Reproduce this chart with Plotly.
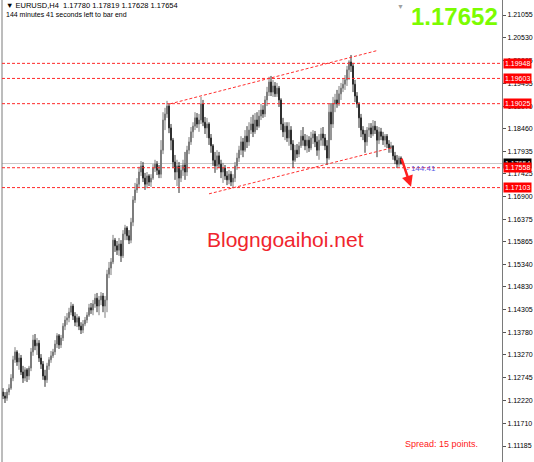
import plotly.graph_objects as go

# ---------------- data (EURUSD H4) ----------------
closes = [
    1.1233, 1.1228, 1.1242, 1.1251, 1.1274, 1.1316, 1.1334, 1.1311, 1.1320, 1.1288,
    1.1274, 1.1293, 1.1279, 1.1297, 1.1334, 1.1361, 1.1348, 1.1354, 1.1320, 1.1306,
    1.1279, 1.1270, 1.1302, 1.1316, 1.1325, 1.1334, 1.1352, 1.1371, 1.1350, 1.1366,
    1.1393, 1.1407, 1.1412, 1.1425, 1.1439, 1.1416, 1.1402, 1.1412, 1.1393, 1.1384,
    1.1398, 1.1407, 1.1418, 1.1435, 1.1430, 1.1444, 1.1457, 1.1439, 1.1453, 1.1462,
    1.1439, 1.1453, 1.1512, 1.1526, 1.1540, 1.1590, 1.1577, 1.1567, 1.1581, 1.1554,
    1.1604, 1.1618, 1.1600, 1.1590, 1.1631, 1.1682, 1.1705, 1.1718, 1.1746, 1.1760,
    1.1732, 1.1718, 1.1737, 1.1723, 1.1732, 1.1755, 1.1764, 1.1750, 1.1741, 1.1796,
    1.1865, 1.1879, 1.1897, 1.1847, 1.1819, 1.1769, 1.1746, 1.1760, 1.1732, 1.1750,
    1.1762, 1.1746, 1.1796, 1.1815, 1.1838, 1.1851, 1.1870, 1.1856, 1.1865, 1.1902,
    1.1860, 1.1847, 1.1856, 1.1824, 1.1806, 1.1773, 1.1760, 1.1783, 1.1764, 1.1746,
    1.1755, 1.1737, 1.1728, 1.1741, 1.1723, 1.1732, 1.1760, 1.1778, 1.1796, 1.1815,
    1.1796, 1.1828, 1.1815, 1.1842, 1.1856, 1.1838, 1.1865, 1.1851, 1.1874, 1.1888,
    1.1879, 1.1911, 1.1929, 1.1952, 1.1929, 1.1943, 1.1925, 1.1938, 1.1911, 1.1856,
    1.1838, 1.1851, 1.1824, 1.1842, 1.1810, 1.1773, 1.1796, 1.1787, 1.1806, 1.1828,
    1.1819, 1.1806, 1.1819, 1.1801, 1.1824, 1.1833, 1.1815, 1.1796, 1.1819, 1.1833,
    1.1824, 1.1806, 1.1778, 1.1883, 1.1856, 1.1902, 1.1911, 1.1902, 1.1925, 1.1938,
    1.1947, 1.1957, 1.1980, 1.1998, 1.1989, 1.1947, 1.1920, 1.1902, 1.1870, 1.1842,
    1.1833, 1.1815, 1.1842, 1.1847, 1.1833, 1.1851, 1.1842, 1.1819, 1.1838, 1.1828,
    1.1819, 1.1828, 1.1810, 1.1801, 1.1806, 1.1783, 1.1773, 1.1764, 1.1778, 1.17654,
]

opens = [
    1.1242, 1.1233, 1.1228, 1.1242, 1.1251, 1.1274, 1.1316, 1.1334, 1.1311, 1.1320,
    1.1288, 1.1274, 1.1293, 1.1279, 1.1297, 1.1334, 1.1361, 1.1348, 1.1354, 1.1320,
    1.1306, 1.1279, 1.1270, 1.1302, 1.1316, 1.1325, 1.1334, 1.1352, 1.1371, 1.1350,
    1.1366, 1.1393, 1.1407, 1.1412, 1.1425, 1.1439, 1.1416, 1.1402, 1.1412, 1.1393,
    1.1384, 1.1398, 1.1407, 1.1418, 1.1435, 1.1430, 1.1444, 1.1457, 1.1439, 1.1453,
    1.1462, 1.1439, 1.1453, 1.1512, 1.1526, 1.1540, 1.1590, 1.1577, 1.1567, 1.1581,
    1.1554, 1.1604, 1.1618, 1.1600, 1.1590, 1.1631, 1.1682, 1.1705, 1.1718, 1.1746,
    1.1760, 1.1732, 1.1718, 1.1737, 1.1723, 1.1732, 1.1755, 1.1764, 1.1750, 1.1741,
    1.1796, 1.1865, 1.1879, 1.1897, 1.1847, 1.1819, 1.1769, 1.1746, 1.1760, 1.1732,
    1.1750, 1.1762, 1.1746, 1.1796, 1.1815, 1.1838, 1.1851, 1.1870, 1.1856, 1.1865,
    1.1902, 1.1860, 1.1847, 1.1856, 1.1824, 1.1806, 1.1773, 1.1760, 1.1783, 1.1764,
    1.1746, 1.1755, 1.1737, 1.1728, 1.1741, 1.1723, 1.1732, 1.1760, 1.1778, 1.1796,
    1.1815, 1.1796, 1.1828, 1.1815, 1.1842, 1.1856, 1.1838, 1.1865, 1.1851, 1.1874,
    1.1888, 1.1879, 1.1911, 1.1929, 1.1952, 1.1929, 1.1943, 1.1925, 1.1938, 1.1911,
    1.1856, 1.1838, 1.1851, 1.1824, 1.1842, 1.1810, 1.1773, 1.1796, 1.1787, 1.1806,
    1.1828, 1.1819, 1.1806, 1.1819, 1.1801, 1.1824, 1.1833, 1.1815, 1.1796, 1.1819,
    1.1833, 1.1824, 1.1806, 1.1778, 1.1883, 1.1856, 1.1902, 1.1911, 1.1902, 1.1925,
    1.1938, 1.1947, 1.1957, 1.1980, 1.1998, 1.1989, 1.1947, 1.1920, 1.1902, 1.1870,
    1.1842, 1.1833, 1.1815, 1.1842, 1.1847, 1.1833, 1.1851, 1.1842, 1.1819, 1.1838,
    1.1828, 1.1819, 1.1828, 1.1810, 1.1801, 1.1806, 1.1783, 1.1773, 1.1764, 1.17780,
]

highs = [
    1.1251, 1.1242, 1.1249, 1.1260, 1.1283, 1.1325, 1.1345, 1.1338, 1.1331, 1.1327,
    1.1302, 1.1299, 1.1297, 1.1302, 1.1343, 1.1373, 1.1375, 1.1366, 1.1361, 1.1329,
    1.1313, 1.1293, 1.1309, 1.1322, 1.1336, 1.1341, 1.1361, 1.1377, 1.1375, 1.1373,
    1.1400, 1.1416, 1.1423, 1.1435, 1.1448, 1.1444, 1.1425, 1.1421, 1.1416, 1.1402,
    1.1407, 1.1414, 1.1425, 1.1444, 1.1446, 1.1453, 1.1467, 1.1469, 1.1462, 1.1471,
    1.1469, 1.1462, 1.1522, 1.1540, 1.1549, 1.1602, 1.1595, 1.1588, 1.1595, 1.1590,
    1.1613, 1.1625, 1.1622, 1.1613, 1.1641, 1.1691, 1.1721, 1.1732, 1.1758, 1.1771,
    1.1769, 1.1744, 1.1746, 1.1741, 1.1741, 1.1764, 1.1774, 1.1771, 1.1762, 1.1819,
    1.1883, 1.1893, 1.1909, 1.1902, 1.1856, 1.1824, 1.1785, 1.1774, 1.1769, 1.1762,
    1.1774, 1.1792, 1.1806, 1.1826, 1.1849, 1.1860, 1.1883, 1.1881, 1.1879, 1.1918,
    1.1911, 1.1872, 1.1870, 1.1860, 1.1833, 1.1810, 1.1792, 1.1796, 1.1792, 1.1774,
    1.1767, 1.1762, 1.1748, 1.1751, 1.1748, 1.1741, 1.1769, 1.1790, 1.1806, 1.1828,
    1.1824, 1.1842, 1.1851, 1.1860, 1.1872, 1.1877, 1.1881, 1.1883, 1.1888, 1.1902,
    1.1899, 1.1920, 1.1941, 1.1964, 1.1966, 1.1957, 1.1952, 1.1950, 1.1943, 1.1915,
    1.1870, 1.1860, 1.1860, 1.1860, 1.1851, 1.1819, 1.1808, 1.1810, 1.1815, 1.1842,
    1.1849, 1.1833, 1.1831, 1.1828, 1.1838, 1.1842, 1.1840, 1.1828, 1.1833, 1.1847,
    1.1849, 1.1833, 1.1819, 1.1902, 1.1904, 1.1918, 1.1925, 1.1934, 1.1943, 1.1950,
    1.1961, 1.1968, 1.1989, 1.2002, 1.2014, 1.1996, 1.1957, 1.1929, 1.1906, 1.1879,
    1.1851, 1.1842, 1.1849, 1.1858, 1.1858, 1.1865, 1.1863, 1.1851, 1.1849, 1.1847,
    1.1838, 1.1833, 1.1833, 1.1819, 1.1815, 1.1806, 1.1792, 1.1785, 1.1783, 1.17819,
]

lows = [
    1.1226, 1.1217, 1.1222, 1.1235, 1.1247, 1.1267, 1.1309, 1.1302, 1.1293, 1.1281,
    1.1263, 1.1267, 1.1265, 1.1270, 1.1290, 1.1325, 1.1338, 1.1327, 1.1311, 1.1295,
    1.1270, 1.1254, 1.1263, 1.1293, 1.1309, 1.1320, 1.1327, 1.1343, 1.1341, 1.1343,
    1.1359, 1.1384, 1.1396, 1.1402, 1.1418, 1.1407, 1.1393, 1.1391, 1.1384, 1.1375,
    1.1377, 1.1393, 1.1400, 1.1414, 1.1421, 1.1418, 1.1435, 1.1425, 1.1418, 1.1441,
    1.1425, 1.1412, 1.1425, 1.1503, 1.1510, 1.1535, 1.1563, 1.1556, 1.1554, 1.1540,
    1.1549, 1.1590, 1.1590, 1.1581, 1.1583, 1.1622, 1.1675, 1.1698, 1.1709, 1.1737,
    1.1723, 1.1705, 1.1709, 1.1714, 1.1712, 1.1728, 1.1746, 1.1739, 1.1732, 1.1732,
    1.1787, 1.1842, 1.1870, 1.1835, 1.1796, 1.1755, 1.1728, 1.1714, 1.1698, 1.1723,
    1.1737, 1.1728, 1.1737, 1.1787, 1.1808, 1.1824, 1.1842, 1.1847, 1.1838, 1.1856,
    1.1851, 1.1833, 1.1824, 1.1808, 1.1790, 1.1760, 1.1744, 1.1751, 1.1755, 1.1732,
    1.1721, 1.1728, 1.1716, 1.1718, 1.1714, 1.1709, 1.1723, 1.1751, 1.1769, 1.1785,
    1.1780, 1.1792, 1.1801, 1.1806, 1.1833, 1.1826, 1.1833, 1.1842, 1.1847, 1.1865,
    1.1870, 1.1872, 1.1897, 1.1920, 1.1920, 1.1918, 1.1918, 1.1918, 1.1895, 1.1842,
    1.1826, 1.1819, 1.1815, 1.1806, 1.1796, 1.1755, 1.1769, 1.1778, 1.1780, 1.1801,
    1.1806, 1.1796, 1.1790, 1.1792, 1.1796, 1.1810, 1.1803, 1.1783, 1.1774, 1.1806,
    1.1806, 1.1796, 1.1762, 1.1774, 1.1819, 1.1847, 1.1883, 1.1893, 1.1897, 1.1911,
    1.1929, 1.1934, 1.1943, 1.1957, 1.1975, 1.1929, 1.1906, 1.1893, 1.1847, 1.1826,
    1.1819, 1.1790, 1.1806, 1.1826, 1.1824, 1.1828, 1.1833, 1.1780, 1.1810, 1.1819,
    1.1808, 1.1803, 1.1801, 1.1790, 1.1790, 1.1774, 1.1764, 1.1755, 1.1758, 1.17628,
]

bar_index = list(range(len(closes)))

tick_values = [1.21055, 1.20530, 1.20005, 1.19495, 1.18970, 1.18460, 1.17935,
               1.17425, 1.16900, 1.16375, 1.15865, 1.15340, 1.14830, 1.14305,
               1.13780, 1.13270, 1.12745, 1.12220, 1.11710, 1.11185]
tick_labels = [f"{v:.5f}" for v in tick_values]

level_prices = [1.19948, 1.19603, 1.19025, 1.17558, 1.17103]
current_price = 1.17654
big_price_text = "1.17652"

# trend channel lines: (bar index, price) endpoints
upper_trend = [(83.5, 1.1902), (187.0, 1.2024)]
lower_trend = [(103.0, 1.1696), (195.0, 1.1802)]

# projected move arrow: start / end (bar index, price)
arrow_start = (199.0, 1.1780)
arrow_end = (204.0, 1.1712)

header_text = "▼ EURUSD,H4  1.17780 1.17819 1.17628 1.17654"
timer_text = "144 minutes 41 seconds left to bar end"
countdown_text = "- 144:41"
watermark_text = "Blogngoaihoi.net"
spread_text = "Spread: 15 points."

# ---------------- figure ----------------
FONT = "Liberation Sans, Arial, sans-serif"

fig = go.Figure()
fig.add_trace(go.Candlestick(
    x=bar_index, open=opens, high=highs, low=lows, close=closes,
    increasing=dict(line=dict(color="#7c7c7c", width=1), fillcolor="#8a8a8a"),
    decreasing=dict(line=dict(color="#2e2e2e", width=1), fillcolor="#2e2e2e"),
    whiskerwidth=0, showlegend=False, hoverinfo="skip",
))

shapes = []
# left border of chart
shapes.append(dict(type="line", xref="paper", yref="paper", x0=0, x1=0, y0=0, y1=1,
                   line=dict(color="#7a7a7a", width=1)))
# current price (bid) line
shapes.append(dict(type="line", xref="paper", yref="y", x0=0, x1=1,
                   y0=current_price, y1=current_price,
                   line=dict(color="#c8c8c8", width=1), layer="below"))
# horizontal levels
for p in level_prices:
    shapes.append(dict(type="line", xref="paper", yref="y", x0=0, x1=1, y0=p, y1=p,
                       line=dict(color="#ff2a2a", width=1, dash="3px,2px")))
# trend lines
for (xa, ya), (xb, yb) in [upper_trend, lower_trend]:
    shapes.append(dict(type="line", xref="x", yref="y", x0=xa, y0=ya, x1=xb, y1=yb,
                       line=dict(color="#ff3030", width=1, dash="3px,2px")))

annotations = []
# current price label (black) then level labels (red)
annotations.append(dict(x=1, xref="paper", y=current_price, yref="y", xanchor="left",
                        yanchor="middle", xshift=1, text=f"{current_price:.5f}",
                        showarrow=False, bgcolor="#000000", borderpad=1,
                        font=dict(family=FONT, size=7, color="white")))
for p in level_prices:
    annotations.append(dict(x=1, xref="paper", y=p, yref="y", xanchor="left",
                            yanchor="middle", xshift=1, text=f"{p:.5f}",
                            showarrow=False, bgcolor="#ff0000", borderpad=1,
                            font=dict(family=FONT, size=7, color="white")))
# big price
annotations.append(dict(x=0.996, y=0.964, xref="paper", yref="paper", xanchor="right",
                        yanchor="middle", text=f"<b>{big_price_text}</b>", showarrow=False,
                        font=dict(family=FONT, size=24, color="#7cfc00")))
# header texts
annotations.append(dict(x=0.004, y=0.988, xref="paper", yref="paper", xanchor="left",
                        yanchor="middle", text=header_text, showarrow=False,
                        font=dict(family=FONT, size=7.5, color="#000000")))
annotations.append(dict(x=0.004, y=0.968, xref="paper", yref="paper", xanchor="left",
                        yanchor="middle", text=timer_text, showarrow=False,
                        font=dict(family=FONT, size=7, color="#000000")))
# watermark
annotations.append(dict(x=0.566, y=0.481, xref="paper", yref="paper", xanchor="center",
                        yanchor="middle", text=watermark_text, showarrow=False,
                        font=dict(family=FONT, size=21, color="#f0252d")))
# spread
annotations.append(dict(x=0.956, y=0.039, xref="paper", yref="paper", xanchor="right",
                        yanchor="middle", text=spread_text, showarrow=False,
                        font=dict(family=FONT, size=9, color="#ff2020")))
# countdown
annotations.append(dict(x=200.5, y=1.1755, xref="x", yref="y", xanchor="left",
                        yanchor="middle", text=countdown_text, showarrow=False,
                        font=dict(family=FONT, size=8, color="#5a5ae6")))
# arrow
annotations.append(dict(x=arrow_end[0], y=arrow_end[1], xref="x", yref="y",
                        ax=arrow_start[0], ay=arrow_start[1], axref="x", ayref="y",
                        text="", showarrow=True, arrowhead=2, arrowsize=0.9,
                        arrowwidth=2.5, arrowcolor="#ff2020"))
# chart shift marker
annotations.append(dict(x=0.796, y=0.997, xref="paper", yref="paper", xanchor="center",
                        yanchor="top", text="▼", showarrow=False,
                        font=dict(family=FONT, size=7, color="#a0a0a0")))

fig.update_layout(
    width=534, height=462,
    margin=dict(l=2, r=32, t=0, b=0),
    paper_bgcolor="white", plot_bgcolor="white",
    xaxis=dict(range=[-0.5, 249.5], visible=False, rangeslider=dict(visible=False),
               showgrid=False, zeroline=False),
    yaxis=dict(range=[1.10819, 1.21399], side="right", showgrid=False, zeroline=False,
               tickvals=tick_values, ticktext=tick_labels, ticks="outside", ticklen=3,
               tickcolor="#555555", showline=True, linecolor="#7a7a7a", linewidth=1,
               tickfont=dict(family=FONT, size=7, color="#000000")),
    shapes=shapes, annotations=annotations,
    showlegend=False,
)

fig.write_html(
    "out.html",
    config={"displayModeBar": False},
    post_script="document.body.style.margin='0';document.body.style.overflow='hidden';",
)
